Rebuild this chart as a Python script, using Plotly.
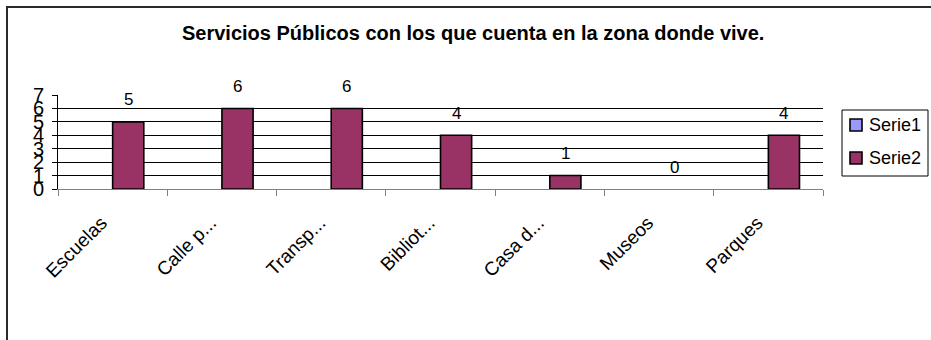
import plotly.graph_objects as go

# --- data ---
categorias = ["Escuelas", "Calle p...", "Transp...", "Bibliot...", "Casa d...", "Museos", "Parques"]
serie1 = [None, None, None, None, None, None, None]
serie2 = [5, 6, 6, 4, 1, 0, 4]
series_nombres = ["Serie1", "Serie2"]
series_colores = ["#9999FF", "#993366"]
titulo = "Servicios Públicos con los que cuenta en la zona donde vive."

# --- geometry of the page ---
W, H = 931, 340
ML, MR, MT, MB = 58, 108, 95, 151
PW, PH = W - ML - MR, H - MT - MB
BARGAP = 0.43
FONT = "Liberation Sans, Arial, sans-serif"


def px_x(px):
    return (px - ML) / PW


def px_y(py):
    return (H - MB - py) / PH


fig = go.Figure()
for nombre, vals, color in zip(series_nombres, [serie1, serie2], series_colores):
    # zero-height bars get no outline
    widths = [0 if (v is None or v == 0) else 1.6 for v in vals]
    fig.add_trace(go.Bar(
        x=categorias, y=vals, name=nombre,
        marker=dict(color=color, line=dict(color="black", width=widths)),
        showlegend=False,
    ))

# value labels above the Serie2 bars
cat_px = PW / len(categorias)
shift = cat_px * (1 - BARGAP) / 4
annotations = []
for c, v in zip(categorias, serie2):
    annotations.append(dict(
        x=c, y=v, xref="x", yref="y", text=str(v), showarrow=False,
        xshift=shift, yshift=22, yanchor="middle",
        font=dict(family=FONT, size=17, color="black"),
    ))

# title
annotations.append(dict(
    x=px_x(473), y=px_y(33), xref="paper", yref="paper", text="<b>" + titulo + "</b>",
    showarrow=False, xanchor="center", yanchor="middle",
    font=dict(family=FONT, size=20, color="black"),
))

shapes = [
    # outer chart frame
    dict(type="rect", xref="paper", yref="paper",
         x0=px_x(7), x1=px_x(960), y0=px_y(360), y1=px_y(7),
         line=dict(color="#2b2b2b", width=2), fillcolor="rgba(0,0,0,0)", layer="above"),
    # legend box
    dict(type="rect", xref="paper", yref="paper",
         x0=px_x(842), x1=px_x(928), y0=px_y(176), y1=px_y(110),
         line=dict(color="black", width=1), fillcolor="white"),
]

# legend entries
leg_y = [125, 158]
for nombre, color, cy in zip(series_nombres, series_colores, leg_y):
    shapes.append(dict(type="rect", xref="paper", yref="paper",
                       x0=px_x(850), x1=px_x(862), y0=px_y(cy + 6), y1=px_y(cy - 6),
                       line=dict(color="black", width=1.6), fillcolor=color))
    annotations.append(dict(x=px_x(867), y=px_y(cy), xref="paper", yref="paper",
                            text=nombre, showarrow=False, xanchor="left", yanchor="middle",
                            font=dict(family=FONT, size=18, color="black")))

fig.update_layout(
    width=W, height=H,
    margin=dict(l=ML, r=MR, t=MT, b=MB),
    paper_bgcolor="white", plot_bgcolor="white",
    barmode="group", bargap=BARGAP, bargroupgap=0,
    showlegend=False,
    annotations=annotations, shapes=shapes,
    font=dict(family=FONT, color="black"),
)
# slanted category labels, padded at the end so they sit a little further left
fig.update_xaxes(
    showline=True, linecolor="#808080", linewidth=1,
    ticks="outside", ticklen=6, tickcolor="#808080", tickson="boundaries",
    tickmode="array", tickvals=categorias,
    ticktext=[c + "\u00a0\u00a0\u00a0" for c in categorias],
    tickangle=-45, tickfont=dict(family=FONT, size=19, color="black"),
    ticklabelstandoff=3, showgrid=False,
)
fig.update_yaxes(
    range=[0, 7], dtick=1, showline=True, linecolor="black", linewidth=1,
    ticks="outside", ticklen=5, tickcolor="black",
    showgrid=True, gridcolor="black", gridwidth=1, zeroline=False,
    tickfont=dict(family=FONT, size=20, color="black"), ticklabelstandoff=4,
)

fig.write_html("out.html")
